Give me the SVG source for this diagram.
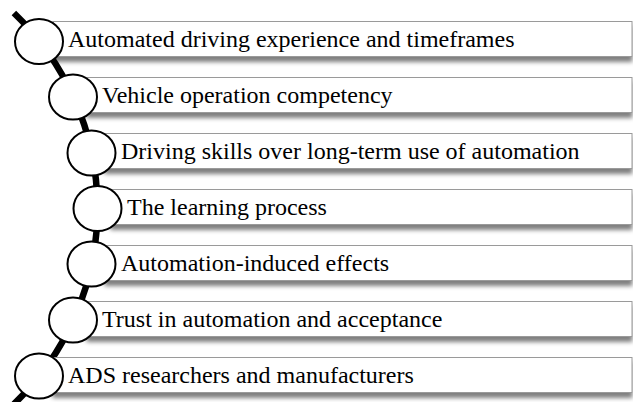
<svg xmlns="http://www.w3.org/2000/svg" width="633" height="402" viewBox="0 0 633 402">
  <style>
    .bar { fill: #ffffff; stroke: #9a9a9a; stroke-width: 1; filter: url(#barShadow); }
    .dot { fill: #ffffff; stroke: #000000; stroke-width: 2; }
    .label { font-family: "Liberation Serif", "Times New Roman", serif; font-size: 24px; fill: #000000; }
    .spine { fill: none; stroke: #000000; stroke-width: 6.5; stroke-linecap: butt; }
  </style>
  <defs>
    <filter id="barShadow" x="-5%" y="-30%" width="110%" height="180%">
      <feGaussianBlur in="SourceAlpha" stdDeviation="2.2"/>
      <feOffset dx="0" dy="4.5" result="blur"/>
      <feFlood flood-color="#000000" flood-opacity="0.5"/>
      <feComposite in2="blur" operator="in"/>
      <feMerge>
        <feMergeNode/>
        <feMergeNode in="SourceGraphic"/>
      </feMerge>
    </filter>
  </defs>

  <rect width="633" height="402" fill="#ffffff"/>

  <!-- curved spine joining the markers -->
  <g id="connectors">
    <path class="spine" d="M 13.9 13 A 270.5 270.5 0 0 1 13.9 404"/>
  </g>

  <g id="item1">
    <rect class="bar" x="53" y="21.5" width="579" height="35"/>
    <ellipse class="dot" cx="39" cy="41.5" rx="24" ry="22.5"/>
    <text class="label" x="68" y="47">Automated driving experience and timeframes</text>
  </g>

  <g id="item2">
    <rect class="bar" x="87" y="77.5" width="545" height="35"/>
    <ellipse class="dot" cx="73" cy="97" rx="24" ry="22.5"/>
    <text class="label" x="102" y="103">Vehicle operation competency</text>
  </g>

  <g id="item3">
    <rect class="bar" x="105" y="133.5" width="527" height="35"/>
    <ellipse class="dot" cx="91.5" cy="153" rx="24" ry="22.5"/>
    <text class="label" x="121" y="159">Driving skills over long-term use of automation</text>
  </g>

  <g id="item4">
    <rect class="bar" x="111" y="189.5" width="521" height="35"/>
    <ellipse class="dot" cx="97.5" cy="208.5" rx="24" ry="22.5"/>
    <text class="label" x="127" y="215">The learning process</text>
  </g>

  <g id="item5">
    <rect class="bar" x="105" y="245.5" width="527" height="35"/>
    <ellipse class="dot" cx="91.5" cy="264" rx="24" ry="22.5"/>
    <text class="label" x="121" y="271">Automation-induced effects</text>
  </g>

  <g id="item6">
    <rect class="bar" x="87" y="301.5" width="545" height="35"/>
    <ellipse class="dot" cx="73" cy="320" rx="24" ry="22.5"/>
    <text class="label" x="102" y="327">Trust in automation and acceptance</text>
  </g>

  <g id="item7">
    <rect class="bar" x="53" y="357.5" width="579" height="35"/>
    <ellipse class="dot" cx="39" cy="376" rx="24" ry="22.5"/>
    <text class="label" x="68" y="383">ADS researchers and manufacturers</text>
  </g>
</svg>
